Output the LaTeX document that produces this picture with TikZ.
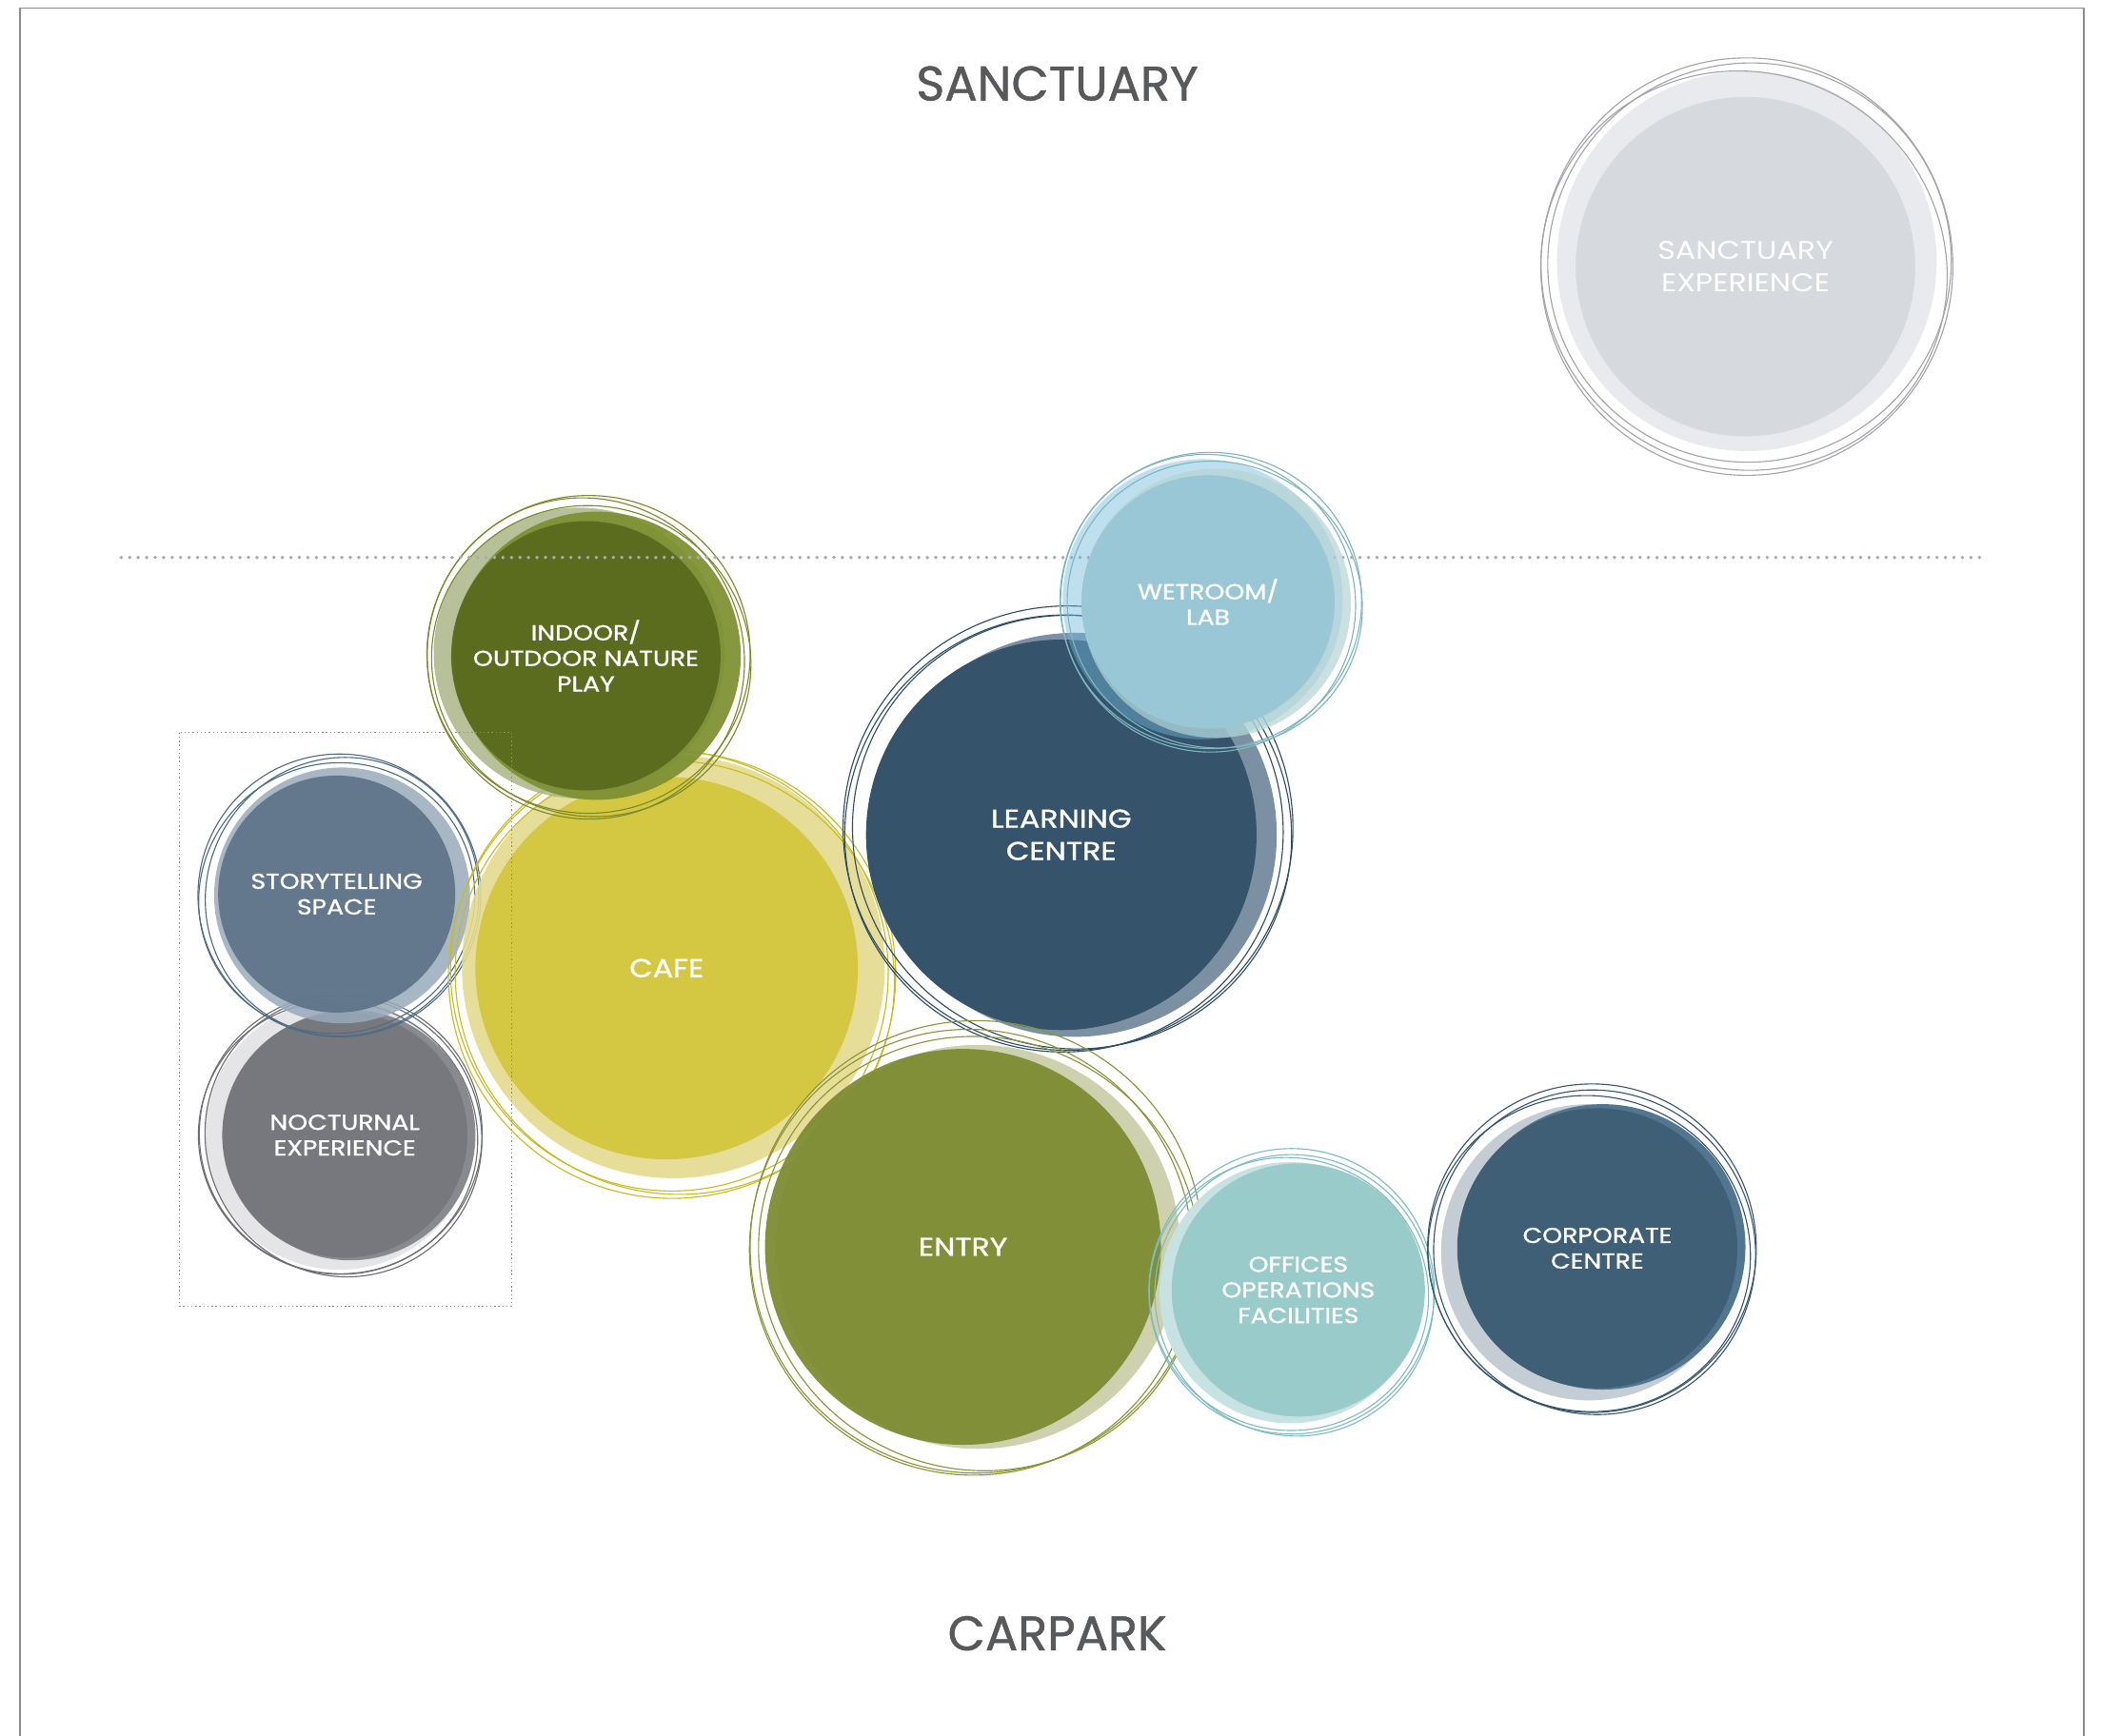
\documentclass[tikz,border=0pt]{standalone}
\usepackage{fontspec}
\setmainfont{Poppins}
\newfontfamily\labelfont{Poppins}[FakeStretch=1.18, FakeBold=1.2]
\newfontfamily\thinfont{Poppins}[FakeStretch=1.18]
\newfontfamily\titlefont{Poppins}[FakeBold=1]
\definecolor{titlegray}{HTML}{58595B}
\definecolor{framegray}{HTML}{8C8C8C}
\definecolor{dotgray}{HTML}{A9ABAE}
\definecolor{sanc}{HTML}{D6D9DD}
\definecolor{sanclight}{HTML}{E9EAED}
\definecolor{sancring}{HTML}{A2A4A8}
\definecolor{wet}{HTML}{99C7D5}
\definecolor{wetlight}{HTML}{6FB8DA}
\definecolor{wetpale}{HTML}{B5D4D4}
\definecolor{wetring}{HTML}{7DB6BF}
\definecolor{learn}{HTML}{35536A}
\definecolor{learnlight}{HTML}{6D8599}
\definecolor{learnring}{HTML}{2E4C62}
\definecolor{play}{HTML}{5A6A1E}
\definecolor{playlight}{HTML}{AAB587}
\definecolor{playmid}{HTML}{7F9134}
\definecolor{playring}{HTML}{7C8A2A}
\definecolor{story}{HTML}{5E7388}
\definecolor{storylight}{HTML}{98AABA}
\definecolor{storyring}{HTML}{4F6C85}
\definecolor{noct}{HTML}{76787E}
\definecolor{noctlight}{HTML}{E5E5E7}
\definecolor{noctmid}{HTML}{888A8F}
\definecolor{noctring}{HTML}{6D6E71}
\definecolor{cafe}{HTML}{D4C842}
\definecolor{cafelight}{HTML}{E3DA8D}
\definecolor{cafering}{HTML}{C9BC1E}
\definecolor{entry}{HTML}{7E8C33}
\definecolor{entrylight}{HTML}{C9CCA4}
\definecolor{entryring}{HTML}{8A9636}
\definecolor{office}{HTML}{9ACBCB}
\definecolor{officelight}{HTML}{C6E2E2}
\definecolor{officering}{HTML}{7DBCC1}
\definecolor{corp}{HTML}{3E5F75}
\definecolor{corplight}{HTML}{C5CDD4}
\definecolor{corpmid}{HTML}{52768F}
\definecolor{corpring}{HTML}{36566F}
\tikzset{
  bubble/.style={circle, inner sep=0pt, text=white, align=center},
  ring/.style={line width=0.8pt},
  small/.style={font=\labelfont\fontsize{16}{19}\selectfont},
  big/.style={font=\labelfont\fontsize{19}{24}\selectfont},
  title/.style={text=titlegray, font=\titlefont\fontsize{36}{40}\selectfont},
}
\begin{document}
\begin{tikzpicture}[x=1pt, y=-1pt]
\useasboundingbox (0,0) rectangle (1560,1289);
\draw[framegray, line width=1.3pt] (15,1289) -- (15,6) -- (1547,6) -- (1547,1289);
\node[title] (top) at (785,62) {SANCTUARY};
\node[title] (bottom) at (785,1213) {CARPARK};
% sanctuary
\fill[sanclight] (1297,194) circle[radius=141pt];
\node[bubble, fill=sanc, minimum size=252pt, font=\thinfont\fontsize{19}{24}\selectfont] (sanct) at (1296,198) {SANCTUARY\\EXPERIENCE};
\foreach \dx/\dy/\rx/\ry/\t in {1/0/153/155/0, 3/-3/150/148/20, -1/3/152/147/-30}
  \draw[ring, sancring] ([shift={(\dx,\dy)}]sanct.center) circle[x radius=\rx pt, y radius=\ry pt, rotate=\t];
% nocturnal
\fill[noctlight] (252,843) circle[radius=100pt];
\fill[noctmid] (260,843) circle[radius=93pt];
\node[bubble, fill=noct, minimum size=182pt, small] (noct) at (256,843) {NOCTURNAL\\EXPERIENCE};
\foreach \dx/\dy/\rx/\ry/\t in {-3/-1/105/104/0, -1/1/102/105/30, -5/2/104/101/-20}
  \draw[ring, noctring] ([shift={(\dx,\dy)}]noct.center) circle[x radius=\rx pt, y radius=\ry pt, rotate=\t];
% storytelling
\fill[storylight, opacity=.85] (254,665) circle[radius=95pt];
\node[bubble, fill=story, fill opacity=.92, text opacity=1, minimum size=176pt, small] (story) at (250,664) {STORYTELLING\\SPACE};
\foreach \dx/\dy/\rx/\ry/\t in {2/1/105/105/0, 0/3/103/100/25, 4/2/101/104/-25}
  \draw[ring, storyring] ([shift={(\dx,\dy)}]story.center) circle[x radius=\rx pt, y radius=\ry pt, rotate=\t];
% cafe
\fill[cafelight, opacity=.9] (500,718) circle[radius=157pt];
\node[bubble, fill=cafe, minimum size=284pt, big] (cafe) at (495,719) {CAFE};
\foreach \dx/\dy/\rx/\ry/\t in {4/5/166/166/0, 2/2/162/164/30, 6/7/164/160/-30}
  \draw[ring, cafering] ([shift={(\dx,\dy)}]cafe.center) circle[x radius=\rx pt, y radius=\ry pt, rotate=\t];
% nature play
\fill[playlight, opacity=.85] (430,485) circle[radius=108pt];
\fill[playmid, opacity=.95] (443,487) circle[radius=107pt];
\node[bubble, fill=play, fill opacity=.93, text opacity=1, minimum size=200pt, small] (play) at (435,487) {INDOOR/\\OUTDOOR NATURE\\PLAY};
\foreach \dx/\dy/\rx/\ry/\t in {2/-1/120/118/0, 0/2/117/120/30, 4/4/119/115/-20}
  \draw[ring, playring] ([shift={(\dx,\dy)}]play.center) circle[x radius=\rx pt, y radius=\ry pt, rotate=\t];
\draw[dotgray, line width=2.8pt, line cap=round, dash pattern=on 0pt off 6.3pt] (90,414) -- (1472,414);
% learning centre
\fill[learnlight, opacity=.9] (798,620) circle[radius=150pt];
\node[bubble, fill=learn, minimum size=290pt, big] (learn) at (788,620) {LEARNING\\CENTRE};
\foreach \dx/\dy/\rx/\ry/\t in {5/-5/167/165/0, 2/-1/163/162/30, 8/-2/164/160/-30}
  \draw[ring, learnring] ([shift={(\dx,\dy)}]learn.center) circle[x radius=\rx pt, y radius=\ry pt, rotate=\t];
% wetroom
\fill[wetlight, opacity=.45] (893,445) circle[radius=104pt];
\fill[wetpale, opacity=.7] (903,448) circle[radius=100pt];
\node[bubble, fill=wet, minimum size=188pt, small] (wet) at (897,447) {WETROOM/\\LAB};
\foreach \dx/\dy/\rx/\ry/\t in {2/-1/112/110/0, 0/1/109/111/30, 5/2/110/106/-20}
  \draw[ring, wetring] ([shift={(\dx,\dy)}]wet.center) circle[x radius=\rx pt, y radius=\ry pt, rotate=\t];
% entry
\fill[entrylight, opacity=.9] (726,926) circle[radius=150pt];
\node[bubble, fill=entry, fill opacity=.95, text opacity=1, minimum size=294pt, big] (entry) at (715,926) {ENTRY};
\foreach \dx/\dy/\rx/\ry/\t in {10/0/168/168/0, 6/4/164/166/30, 12/5/165/160/-30}
  \draw[ring, entryring] ([shift={(\dx,\dy)}]entry.center) circle[x radius=\rx pt, y radius=\ry pt, rotate=\t];
% offices
\fill[officelight] (958,960) circle[radius=97pt];
\node[bubble, fill=office, minimum size=188pt, small] (office) at (964,958) {OFFICES\\OPERATIONS\\FACILITIES};
\foreach \dx/\dy/\rx/\ry/\t in {-5/1/106/106/0, -3/4/103/105/30, -7/3/104/101/-20}
  \draw[ring, officering] ([shift={(\dx,\dy)}]office.center) circle[x radius=\rx pt, y radius=\ry pt, rotate=\t];
% corporate centre
\fill[corplight] (1180,930) circle[radius=110pt];
\fill[corpmid] (1190,926) circle[radius=106pt];
\node[bubble, fill=corp, minimum size=208pt, small] (corp) at (1186,927) {CORPORATE\\CENTRE};
\foreach \dx/\dy/\rx/\ry/\t in {-4/0/122/122/0, -2/3/119/121/30, -6/4/120/117/-20}
  \draw[ring, corpring] ([shift={(\dx,\dy)}]corp.center) circle[x radius=\rx pt, y radius=\ry pt, rotate=\t];
\draw[framegray, line width=0.8pt, dash pattern=on 1pt off 2pt] (133,544) rectangle (380,970);
\end{tikzpicture}
\end{document}
